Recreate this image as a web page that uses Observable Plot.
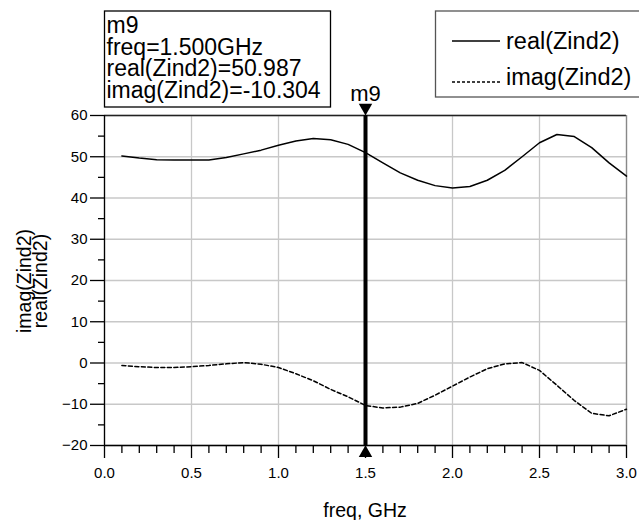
<!DOCTYPE html>
<html><head><meta charset="utf-8">
<script src="https://cdn.jsdelivr.net/npm/d3@7"></script>
<script src="https://cdn.jsdelivr.net/npm/@observablehq/plot@0.6"></script>
<style>html,body{margin:0;padding:0;background:#fff;overflow:hidden} svg{display:block}</style>
</head><body><div id="chart"></div>
<script>
// ---- data ----
const freq  = [0.1,0.2,0.3,0.4,0.5,0.6,0.7,0.8,0.9,1.0,1.1,1.2,1.3,1.4,1.5,1.6,1.7,1.8,1.9,2.0,2.1,2.2,2.3,2.4,2.5,2.6,2.7,2.8,2.9,3.0];
const realZ = [50.2,49.7,49.3,49.2,49.2,49.2,49.8,50.7,51.6,52.8,53.8,54.4,54.1,53.0,50.987,48.5,46.1,44.3,43.0,42.4,42.8,44.3,46.7,50.0,53.4,55.4,54.9,52.2,48.5,45.3];
const imagZ = [-0.6,-0.9,-1.1,-1.1,-0.9,-0.6,-0.2,0.1,-0.3,-1.1,-2.6,-4.3,-6.4,-8.2,-10.304,-10.9,-10.7,-9.8,-7.8,-5.6,-3.4,-1.4,-0.2,0.1,-1.8,-5.4,-9.1,-12.2,-12.8,-11.2];
const xTicks = [0.0,0.5,1.0,1.5,2.0,2.5,3.0];
const xMinor = [0.1,0.2,0.3,0.4,0.6,0.7,0.8,0.9,1.1,1.2,1.3,1.4,1.6,1.7,1.8,1.9,2.1,2.2,2.3,2.4,2.6,2.7,2.8,2.9];
const yTicks = [-20,-10,0,10,20,30,40,50,60];
const yMinor = [-15,-5,5,15,25,35,45,55];
const markerName = "m9";
const markerFreq = 1.5;
const markerLines = ["m9","freq=1.500GHz","real(Zind2)=50.987","imag(Zind2)=-10.304"];
const legendLabels = ["real(Zind2)","imag(Zind2)"];
const xLabel = "freq, GHz";
const yLabels = ["imag(Zind2)","real(Zind2)"];

const rows = freq.map((f,i)=>({f, re: realZ[i], im: imagZ[i]}));
const FONT = "'Liberation Sans', Arial, sans-serif";

const plot = Plot.plot({
  width: 639, height: 520,
  marginLeft: 104, marginRight: 13, marginTop: 115, marginBottom: 75,
  style: {fontFamily: FONT, background: "white", color: "black"},
  x: {domain: [0, 3], label: null},
  y: {domain: [-20, 60], label: null},
  marks: [
    Plot.gridX(xTicks, {stroke: "#c8c8c8", strokeOpacity: 1, strokeWidth: 1.3}),
    Plot.gridY(yTicks, {stroke: "#c8c8c8", strokeOpacity: 1, strokeWidth: 1.3}),
    Plot.ruleY([60], {stroke: "#222", strokeWidth: 1.3}),
    Plot.ruleX([3], {stroke: "#888", strokeWidth: 1.3}),
    Plot.axisX(xMinor, {tickSize: 8, tickFormat: () => "", strokeWidth: 1.3, label: null}),
    Plot.axisX(xTicks, {tickSize: 13, tickPadding: 9, tickFormat: d3.format(".1f"), fontSize: 15, strokeWidth: 1.3, label: null}),
    Plot.axisY(yMinor, {tickSize: 6, tickFormat: () => "", strokeWidth: 1.3, label: null}),
    Plot.axisY(yTicks, {tickSize: 14, tickPadding: 3, fontSize: 15, strokeWidth: 1.3, label: null}),
    Plot.ruleX([0], {stroke: "black", strokeWidth: 1.3}),
    Plot.ruleY([-20], {stroke: "black", strokeWidth: 1.3}),
    Plot.line(rows, {x: "f", y: "re", stroke: "black", strokeWidth: 1.5}),
    Plot.line(rows, {x: "f", y: "im", stroke: "black", strokeWidth: 1.5, strokeDasharray: "4,2.5"}),
    Plot.ruleX([markerFreq], {stroke: "black", strokeWidth: 4}),
    Plot.dot([markerFreq], {x: d => d, y: () => 60, symbol: "triangle", rotate: 180, r: 5, fill: "black", stroke: "none", dy: -7.8}),
    Plot.dot([markerFreq], {x: d => d, y: () => -20, symbol: "triangle", r: 5, fill: "black", stroke: "none", dy: 7.5}),
    Plot.text([markerFreq], {x: d => d, y: () => 60, text: () => markerName, dy: -21.3, fontSize: 22, fill: "black"})
  ]
});

const svg = d3.select(plot);
// marker readout box
const box = svg.append("g").attr("font-family", FONT).attr("text-anchor", "start");
box.append("rect").attr("x", 104.5).attr("y", 11).attr("width", 226).attr("height", 96)
  .attr("fill", "white").attr("stroke", "black").attr("stroke-width", 1.3);
markerLines.forEach((t, i) => {
  box.append("text").attr("x", 106.5).attr("y", 33 + i * 21.6).attr("font-size", 23).attr("fill", "black").text(t);
});
// legend
const lg = svg.append("g").attr("font-family", FONT).attr("text-anchor", "start");
lg.append("rect").attr("x", 435.5).attr("y", 11).attr("width", 220).attr("height", 86)
  .attr("fill", "white").attr("stroke", "#555").attr("stroke-width", 1.3);
lg.append("line").attr("x1", 452).attr("x2", 500).attr("y1", 41).attr("y2", 41).attr("stroke", "black").attr("stroke-width", 1.5);
lg.append("line").attr("x1", 452).attr("x2", 500).attr("y1", 82).attr("y2", 82).attr("stroke", "black").attr("stroke-width", 1.3).attr("stroke-dasharray", "3,2");
lg.append("text").attr("x", 506).attr("y", 49).attr("font-size", 23.5).attr("fill", "black").text(legendLabels[0]);
lg.append("text").attr("x", 506).attr("y", 85).attr("font-size", 23.5).attr("fill", "black").text(legendLabels[1]);
// axis labels
svg.append("text").attr("x", 365).attr("y", 517).attr("text-anchor", "middle").attr("font-family", FONT)
  .attr("font-size", 19.5).attr("fill", "black").text(xLabel);
[31, 47].forEach((x, i) => {
  svg.append("text").attr("transform", `translate(${x},281) rotate(-90)`).attr("text-anchor", "middle")
    .attr("font-family", FONT).attr("font-size", 19.5).attr("fill", "black").text(yLabels[i]);
});
document.getElementById("chart").appendChild(plot);
</script>
</body></html>
